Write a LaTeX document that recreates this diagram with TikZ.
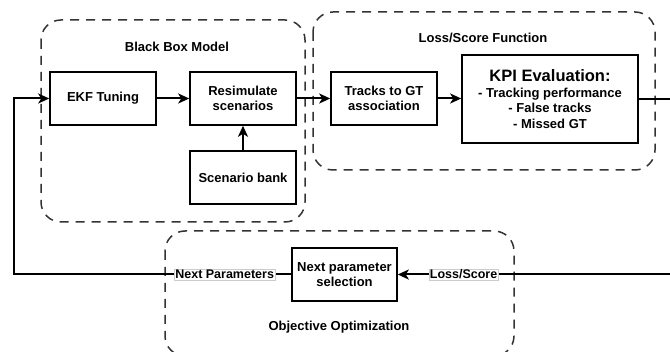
\documentclass[tikz,border=0pt]{standalone}
\usepackage{fontspec}
\setmainfont{Liberation Sans}
\usetikzlibrary{arrows.meta}
\begin{document}
\begin{tikzpicture}[x=1pt,y=-1pt,
  block/.style={draw=black, line width=1.6pt, fill=white, minimum width=106pt, minimum height=53pt,
    align=center, inner sep=2pt, font=\bfseries\fontsize{13}{15}\selectfont},
  group/.style={draw=black!80, line width=1.5pt, dash pattern=on 9pt off 7pt, rounded corners=20pt},
  grouptitle/.style={font=\bfseries\fontsize{13}{15}\selectfont},
  flow/.style={draw=black, line width=2pt, -{Stealth[length=11pt,width=10pt,inset=3pt]}},
  plain/.style={draw=black, line width=2pt},
  tag/.style={fill=white, draw=black!20, line width=0.4pt, inner sep=1pt, font=\bfseries\fontsize{12.5}{14}\selectfont}
]
\useasboundingbox (0,0) rectangle (670,352);
\clip (0,0) rectangle (670,352);
\fill[white] (0,0) rectangle (670,352);

% dashed group frames
\draw[group] (41,20) rectangle (305,222);
\draw[group] (313,12) rectangle (655,170);
\draw[group] (165,231) rectangle (514,356);

\node[grouptitle] (tbb) at (177,47) {Black Box Model};
\node[grouptitle] (tls) at (483,38) {Loss/Score Function};
\node[grouptitle] (too) at (339,327) {Objective Optimization};

% processing blocks
\node[block] (ekf) at (103,98.5) {EKF Tuning};
\node[block] (resim) at (243,98.5) {Resimulate\\scenarios};
\node[block] (bank) at (243,177.5) {Scenario bank};
\node[block] (tracks) at (384,98.5) {Tracks to GT\\association};
\node[block, minimum width=176pt, minimum height=88pt, font=\bfseries\fontsize{13}{15.5}\selectfont] (kpi) at (550,99)
  {{\fontsize{16.5}{18}\selectfont KPI Evaluation:}\\- Tracking performance\\- False tracks\\- Missed GT};
\node[block, minimum width=105pt] (next) at (344.5,274.5) {Next parameter\\selection};

% loop end points
\coordinate (rout) at (672,99);
\coordinate (rin) at (672,274.5);
\coordinate (cb) at (14,274.5);
\coordinate (ct) at (14,98.5);

% forward chain
\draw[flow] (ekf) -- (resim);
\draw[flow] (bank) -- (resim);
\draw[flow] (resim) -- (tracks);
\draw[flow] (tracks) -- (kpi.west |- tracks);
\draw[plain] (kpi.east |- rout) -- (rout);

% optimisation feedback loop
\draw[flow] (rin) -- node[tag, pos=0.76] (lscore) {Loss/Score} (next);
\draw[flow] (next) -- node[tag, pos=0.24] (lnext) {Next Parameters} (cb) -- (ct) -- (ekf);
\end{tikzpicture}
\end{document}
